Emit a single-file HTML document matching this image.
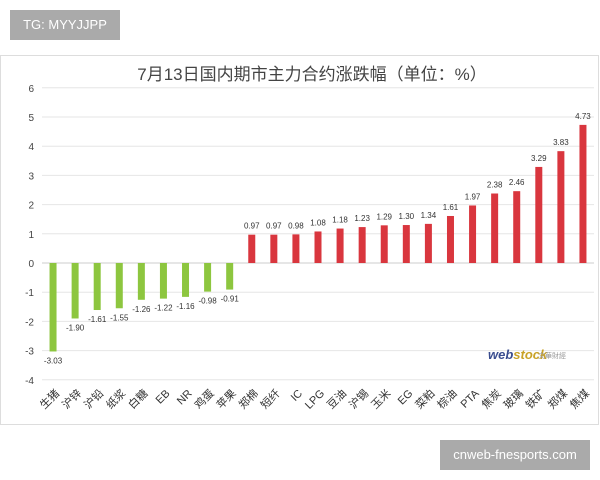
<!DOCTYPE html>
<html><head><meta charset="utf-8"><style>
body{margin:0;width:600px;height:480px;background:#fff;position:relative;overflow:hidden;font-family:"Liberation Sans","Noto Sans CJK SC",sans-serif}
.box{position:absolute}
</style></head><body>
<div class="box" style="left:10px;top:10px;width:110px;height:30px;background:#aaa;color:#fff;font-size:13px;line-height:30px;text-align:center">TG: MYYJJPP</div>
<div class="box" style="left:440px;top:440px;width:150px;height:30px;background:#aaa;color:#fff;font-size:13px;line-height:30px;text-align:center">cnweb-fnesports.com</div>
<svg class="box" style="left:0;top:0" width="600" height="480" id="chart">
<rect x="0.5" y="55.5" width="598" height="369" fill="none" stroke="#ddd"/>
<text x="312" y="80" text-anchor="middle" font-size="17" fill="#444">7月13日国内期市主力合约涨跌幅（单位：%）</text>
<g id="grid"></g><g id="bars"></g>
<text x="488" y="359" font-size="13" font-weight="bold" fill="#3a4d8f" font-style="italic">web<tspan fill="#c9a227">stock</tspan></text>
<text x="538" y="358" font-size="7" fill="#999">文華財經</text>
</svg>
<script>
const categories=["生猪","沪锌","沪铅","纸浆","白糖","EB","NR","鸡蛋","苹果","郑棉","短纤","IC","LPG","豆油","沪锡","玉米","EG","菜粕","棕油","PTA","焦炭","玻璃","铁矿","郑煤","焦煤"];
const values=[-3.03,-1.90,-1.61,-1.55,-1.26,-1.22,-1.16,-0.98,-0.91,0.97,0.97,0.98,1.08,1.18,1.23,1.29,1.30,1.34,1.61,1.97,2.38,2.46,3.29,3.83,4.73];
const yTicks=[6,5,4,3,2,1,0,-1,-2,-3,-4];
const NS="http://www.w3.org/2000/svg";
const x0=42,x1=594,cw=(x1-x0)/categories.length;
const y=v=>263-v*29.2;
const xc=i=>x0+cw*(i+0.5);
function mk(t,a,p){const e=document.createElementNS(NS,t);for(const k in a)e.setAttribute(k,a[k]);p.appendChild(e);return e;}
const grid=document.getElementById('grid'),bars=document.getElementById('bars');
yTicks.forEach(t=>{
 const l=mk('line',{x1:x0,x2:x1,y1:y(t),y2:y(t),stroke:t===0?'#ccc':'#e6e6e6'},grid);
 
 
 const tx=mk('text',{x:34,y:y(t)+4,'text-anchor':'end','font-size':10,fill:'#444'},grid);
 tx.textContent=t;
 
 
});
values.forEach((v,i)=>{
 const cx=xc(i),top=Math.min(y(v),y(0)),h=Math.abs(y(v)-y(0));
 const r=mk('rect',{x:cx-3.5,y:top,width:7,height:h,fill:v<0?'#8dc63f':'#d9363e'},bars);
 
 
 const lb=mk('text',{x:cx,y:v<0?y(v)+12:y(v)-6,'text-anchor':'middle','font-size':8,fill:'#333'},bars);
 lb.textContent=v.toFixed(2);
 
 
 const cl=mk('text',{x:0,y:0,'text-anchor':'end','font-size':11,fill:'#333',transform:`translate(${cx+7},${394}) rotate(-45)`},bars);
 cl.textContent=categories[i];
 
 
});
</script>
</body></html>
